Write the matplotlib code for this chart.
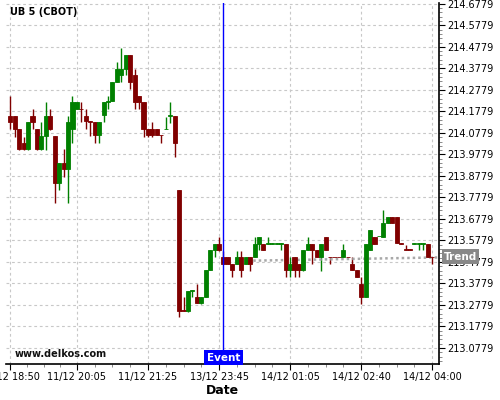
import matplotlib
matplotlib.use("Agg")
import matplotlib.pyplot as plt
import matplotlib.transforms as mtransforms
from matplotlib.ticker import AutoMinorLocator, FixedLocator
import numpy as np

# OHLC of the 5-min candles
opens = [214.157, 214.157, 214.098, 214.033, 214.005, 214.157, 214.098, 214.005, 214.064, 214.157,
         214.064, 213.847, 213.938, 213.910, 214.098, 214.191, 214.191, 214.157, 214.132, 214.129,
         214.067, 214.160, 214.222, 214.225, 214.315, 214.349, 214.377, 214.439, 214.346, 214.250,
         214.222, 214.098, 214.095, 214.095, 214.070, 214.096, 214.158, 214.157, 213.813, 213.254,
         213.251, 213.342, 213.314, 213.286, 213.317, 213.441, 213.534, 213.562, 213.500, 213.500,
         213.469, 213.469, 213.500, 213.469, 213.500, 213.500, 213.562, 213.562, 213.562, 213.562,
         213.562, 213.562, 213.562, 213.441, 213.500, 213.469, 213.441, 213.534, 213.562, 213.534,
         213.500, 213.593, 213.503, 213.503, 213.503, 213.503, 213.503, 213.469, 213.441, 213.376,
         213.314, 213.534, 213.593, 213.597, 213.596, 213.658, 213.686, 213.686, 213.565, 213.537,
         213.537, 213.562, 213.562, 213.562, 213.562, 213.503]
highs = [214.250, 214.157, 214.098, 214.061, 214.129, 214.190, 214.098, 214.129, 214.222, 214.190,
         214.064, 213.938, 214.003, 214.157, 214.250, 214.222, 214.222, 214.190, 214.132, 214.129,
         214.129, 214.222, 214.250, 214.315, 214.408, 214.473, 214.439, 214.439, 214.374, 214.250,
         214.222, 214.098, 214.129, 214.095, 214.070, 214.154, 214.222, 214.157, 213.813, 213.314,
         213.342, 213.348, 213.376, 213.317, 213.441, 213.534, 213.562, 213.593, 213.530, 213.500,
         213.469, 213.530, 213.530, 213.500, 213.500, 213.593, 213.593, 213.562, 213.593, 213.565,
         213.565, 213.565, 213.562, 213.500, 213.500, 213.469, 213.534, 213.593, 213.562, 213.534,
         213.562, 213.593, 213.503, 213.503, 213.503, 213.562, 213.503, 213.503, 213.441, 213.407,
         213.562, 213.627, 213.593, 213.599, 213.720, 213.686, 213.686, 213.686, 213.565, 213.557,
         213.537, 213.565, 213.565, 213.565, 213.562, 213.503]
lows = [214.096, 214.059, 213.999, 213.999, 213.999, 214.098, 213.999, 213.999, 213.999, 214.092,
        213.752, 213.813, 213.873, 213.752, 214.031, 214.191, 214.129, 214.096, 214.064, 214.033,
        214.033, 214.129, 214.191, 214.225, 214.315, 214.315, 214.346, 214.284, 214.191, 214.188,
        214.061, 214.061, 214.061, 214.067, 214.030, 214.096, 214.126, 213.968, 213.221, 213.248,
        213.247, 213.314, 213.286, 213.284, 213.317, 213.441, 213.502, 213.530, 213.469, 213.469,
        213.407, 213.469, 213.407, 213.469, 213.437, 213.500, 213.534, 213.534, 213.562, 213.562,
        213.562, 213.534, 213.407, 213.407, 213.407, 213.407, 213.437, 213.534, 213.469, 213.500,
        213.437, 213.534, 213.469, 213.500, 213.500, 213.503, 213.500, 213.441, 213.410, 213.283,
        213.314, 213.534, 213.562, 213.597, 213.596, 213.658, 213.658, 213.565, 213.562, 213.534,
        213.534, 213.562, 213.534, 213.534, 213.503, 213.469]
closes = [214.129, 214.098, 214.005, 214.005, 214.129, 214.129, 214.005, 214.064, 214.157, 214.098,
          213.847, 213.938, 213.910, 214.129, 214.222, 214.222, 214.190, 214.132, 214.128, 214.067,
          214.129, 214.222, 214.225, 214.315, 214.374, 214.374, 214.439, 214.315, 214.222, 214.222,
          214.098, 214.067, 214.067, 214.067, 214.067, 214.098, 214.160, 214.033, 213.251, 213.251,
          213.342, 213.348, 213.286, 213.317, 213.441, 213.534, 213.562, 213.534, 213.469, 213.469,
          213.441, 213.500, 213.441, 213.500, 213.469, 213.562, 213.593, 213.534, 213.565, 213.565,
          213.565, 213.565, 213.441, 213.469, 213.441, 213.441, 213.534, 213.562, 213.534, 213.500,
          213.562, 213.534, 213.500, 213.500, 213.500, 213.534, 213.500, 213.441, 213.410, 213.314,
          213.562, 213.627, 213.562, 213.599, 213.658, 213.686, 213.658, 213.565, 213.562, 213.534,
          213.534, 213.565, 213.565, 213.565, 213.503, 213.500]

tick_pos = [0, 15, 31, 47, 63, 79, 95]
tick_labels = ["11/12 18:50", "11/12 20:05", "11/12 21:25", "13/12 23:45",
               "14/12 01:05", "14/12 02:40", "14/12 04:00"]
price_ticks = [213.0779, 213.1779, 213.2779, 213.3779, 213.4779, 213.5779, 213.6779,
               213.7779, 213.8779, 213.9779, 214.0779, 214.1779, 214.2779, 214.3779,
               214.4779, 214.5779, 214.6779]
event_idx = 48
trend_x = [54.7, 96.6]
trend_y = [213.484, 213.499]
trend_level = 213.503

UP = "#008000"
DOWN = "#800000"

fig = plt.figure(figsize=(5, 4), dpi=100)
ax = fig.add_axes([0.012, 0.09, 0.8666, 0.902])

o = np.array(opens)
h = np.array(highs)
l = np.array(lows)
c = np.array(closes)
x = np.arange(len(o))
cols = [UP if cc >= oo else DOWN for oo, cc in zip(o, c)]

# grid first so candles sit above it
ax.grid(True, color="#c8c8c8", linestyle=(0, (2.5, 2.5)), linewidth=0.8)
ax.set_axisbelow(True)

ax.vlines(x, l, h, colors=cols, linewidth=1.0, zorder=2)
ax.bar(x, np.abs(c - o), bottom=np.minimum(o, c), width=0.92, color=cols,
       edgecolor=cols, linewidth=0.6, zorder=3)

ax.plot(trend_x, trend_y, linestyle=(0, (1, 1.2)), color="#a8a8a8", linewidth=1.8, zorder=2.5)

ax.axvline(event_idx, color="#0000ff", linewidth=1.0, zorder=4)

ax.set_xlim(-0.97, 96.6)
ax.set_ylim(213.0035, 214.681)

ax.xaxis.set_major_locator(FixedLocator(tick_pos))
ax.set_xticklabels(tick_labels)
minor_x = []
for a, b in zip(tick_pos[:-1], tick_pos[1:]):
    minor_x += [a + (b - a) * k / 4 for k in (1, 2, 3)]
ax.xaxis.set_minor_locator(FixedLocator(minor_x))

ax.yaxis.tick_right()
ax.set_yticks(price_ticks)
ax.set_yticklabels(["%.4f" % p for p in price_ticks])
ax.yaxis.set_minor_locator(AutoMinorLocator(5))

ax.tick_params(axis="both", which="major", labelsize=7, length=4, width=0.8, pad=1.5, colors="black")
ax.tick_params(axis="both", which="minor", length=2, width=0.6, color="#777777")

for s in ("top", "left"):
    ax.spines[s].set_visible(False)
for s in ("bottom", "right"):
    ax.spines[s].set_linewidth(1.2)

ax.set_xlabel("Date", fontsize=9, fontweight="bold", labelpad=2)

# labels / annotations
ax.text(0.009, 0.975, "UB 5 (CBOT)", transform=ax.transAxes, fontsize=7,
        fontweight="bold", ha="left", va="center")
ax.text(0.021, 0.028, "www.delkos.com", transform=ax.transAxes, fontsize=7,
        fontweight="bold", ha="left", va="center", color="#111111")

evt = mtransforms.blended_transform_factory(ax.transData, ax.transAxes)
ax.text(event_idx, 0.004, "Event", transform=evt, fontsize=7.5, fontweight="bold",
        color="white", ha="center", va="bottom",
        bbox=dict(facecolor="#0000ff", edgecolor="none", boxstyle="square,pad=0.25"), zorder=5)

trd = mtransforms.blended_transform_factory(ax.transAxes, ax.transData)
ax.text(1.01, trend_level, "Trend", transform=trd, fontsize=7.5, fontweight="bold",
        color="white", ha="left", va="center", clip_on=False,
        bbox=dict(facecolor="#888888", edgecolor="none", boxstyle="square,pad=0.2"), zorder=5)

fig.savefig("out.png", dpi=100)
